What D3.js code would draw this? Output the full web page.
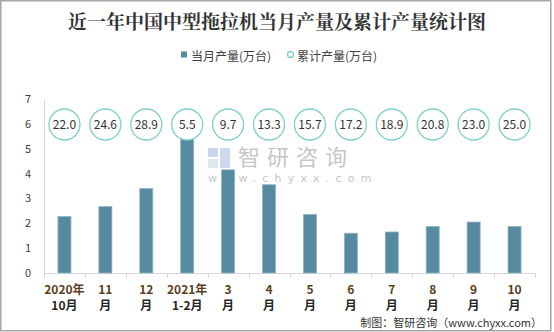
<!DOCTYPE html>
<html><head><meta charset="utf-8">
<script src="https://cdn.jsdelivr.net/npm/d3@7"></script>
<style>
html,body{margin:0;padding:0;background:#fff;}
svg{display:block;}
</style></head>
<body>
<script>
const categories = ["2020年|10月","11|月","12|月","2021年|1-2月","3|月","4|月","5|月","6|月","7|月","8|月","9|月","10|月"];
const monthly = [2.27, 2.67, 3.4, 5.45, 4.15, 3.55, 2.35, 1.6, 1.65, 1.87, 2.05, 1.87];
const cumulative = [22.0, 24.6, 28.9, 5.5, 9.7, 13.3, 15.7, 17.2, 18.9, 20.8, 23.0, 25.0];
const yTicks = [0,1,2,3,4,5,6,7];
const title = "近一年中国中型拖拉机当月产量及累计产量统计图";
const legendLabels = ["当月产量(万台)","累计产量(万台)"];
const source = "制图：智研咨询（www.chyxx.com）";

const W = 554, H = 332;
const svg = d3.select("body").append("svg").attr("width", W).attr("height", H);
const font = "'Noto Sans CJK SC','Microsoft YaHei',sans-serif";

svg.append("rect").attr("x",0.75).attr("y",0.75).attr("width",550).attr("height",330)
  .attr("fill","#fff").attr("stroke","#a6a6a6").attr("stroke-width",1.5);

svg.append("text").attr("x",277).attr("y",29).attr("text-anchor","middle")
  .attr("font-family","'Noto Serif CJK SC','Noto Sans CJK SC',serif").attr("font-weight",700)
  .attr("font-size",19).attr("fill","#333").text(title);

// legend
const lg = svg.append("g").attr("font-family",font).attr("font-size",12).attr("fill","#404040");
lg.append("rect").attr("x",181).attr("y",51.5).attr("width",6).attr("height",6).attr("fill","#568aa0");
lg.append("text").attr("x",191).attr("y",60.5).text(legendLabels[0]);
lg.append("circle").attr("cx",290.5).attr("cy",54.5).attr("r",3).attr("fill","none").attr("stroke","#7fcfca").attr("stroke-width",1.3);
lg.append("text").attr("x",297).attr("y",60.5).text(legendLabels[1]);

const x = d3.scaleBand().domain(categories).range([44,535]).paddingInner(0).paddingOuter(0);
const y = d3.scaleLinear().domain([0,7]).range([273,99]);

// watermark
const wm = svg.append("g");
wm.append("rect").attr("x",208).attr("y",148).attr("width",10).attr("height",9).attr("fill","#c9d6ea");
wm.append("rect").attr("x",208).attr("y",159).attr("width",10).attr("height",9).attr("fill","#dfe6f0");
wm.append("rect").attr("x",220).attr("y",148).attr("width",10).attr("height",20).attr("fill","#cdd9ec");
wm.append("text").attr("x",238).attr("y",165).attr("font-family",font).attr("font-size",22)
  .attr("letter-spacing",7).attr("fill","#c6c6c6").text("智研咨询");
wm.append("text").attr("x",208).attr("y",182).attr("font-family","'DejaVu Sans',sans-serif").attr("font-size",11)
  .attr("letter-spacing",6.2).attr("fill","#c6c6c6").text("www.chyxx.com");

// axes
const yAxis = d3.axisLeft(y).tickValues(yTicks).tickFormat(d3.format("d")).tickSize(0).tickPadding(13);
const gy = svg.append("g").attr("transform","translate(44,0)").call(yAxis);
gy.select(".domain").attr("stroke","#d9d9d9");
gy.selectAll("text").attr("font-family",font).attr("font-size",11).attr("fill","#404040");

const gx = svg.append("g").attr("transform","translate(0,273)");
gx.append("line").attr("x1",44).attr("x2",535).attr("y1",0.5).attr("y2",0.5).attr("stroke","#d9d9d9");
const bounds = categories.map(c => x(c)).concat([x.range()[1]]);
gx.selectAll("line.tk").data(bounds).join("line").attr("class","tk")
  .attr("x1",d=>Math.round(d)+0.5).attr("x2",d=>Math.round(d)+0.5).attr("y1",0).attr("y2",5).attr("stroke","#d9d9d9");

// bars
svg.append("g").selectAll("rect").data(monthly).join("rect")
  .attr("x",(d,i)=>x(categories[i])+x.bandwidth()/2-6.5)
  .attr("width",13)
  .attr("y",d=>y(d))
  .attr("height",d=>y(0)-y(d))
  .attr("fill","#568aa0").attr("stroke","#8fb3c3").attr("stroke-width",0.8);

// cumulative circles
const cg = svg.append("g").selectAll("g").data(cumulative).join("g")
  .attr("transform",(d,i)=>`translate(${x(categories[i])+x.bandwidth()/2},124.5)`);
cg.append("circle").attr("r",15.5).attr("fill","#fff").attr("stroke","#7fcfca").attr("stroke-width",1.3);
cg.append("text").attr("text-anchor","middle").attr("y",4.5).attr("font-family",font).attr("font-size",12)
  .attr("fill","#333").text(d=>d.toFixed(1));

// x labels
const xl = svg.append("g").selectAll("text").data(categories).join("text")
  .attr("text-anchor","middle").attr("font-family",font).attr("font-size",12).attr("font-weight",700);
xl.each(function(c){
  const parts = c.split("|");
  const cx = x(c)+x.bandwidth()/2;
  const t = d3.select(this);
  t.append("tspan").attr("x",cx).attr("y",294).attr("fill","#5a4020").text(parts[0]);
  t.append("tspan").attr("x",cx).attr("y",310).attr("fill","#262626").text(parts[1]);
});

svg.append("text").attr("x",542).attr("y",327).attr("text-anchor","end")
  .attr("font-family","'Noto Sans CJK SC',sans-serif").attr("font-size",11).attr("fill","#333").text(source);
</script>
</body></html>
